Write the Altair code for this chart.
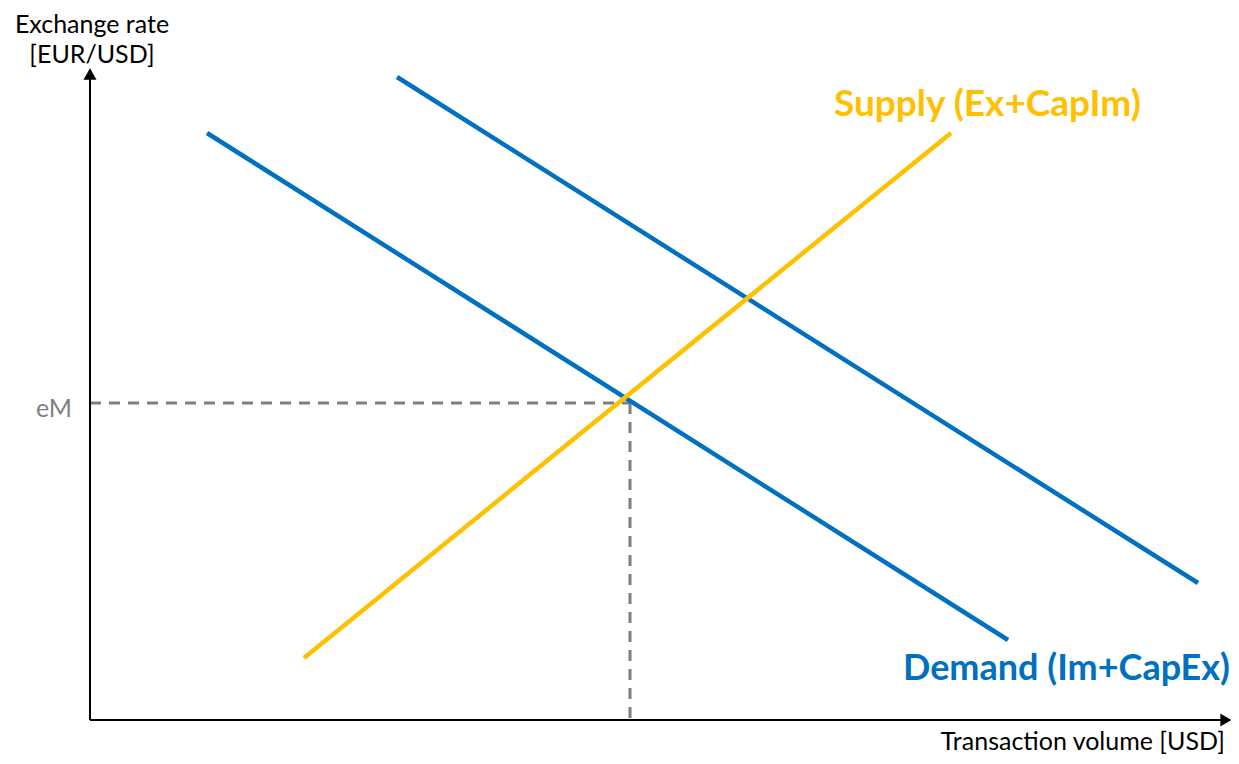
import altair as alt
import pandas as pd

# Curve end points (x: transaction volume units, y: exchange rate units)
demand1_x = [117, 918]
demand1_y = [587, 80]
demand2_x = [307, 1108]
demand2_y = [643, 137]
supply_x = [214, 861]
supply_y = [62, 587]

# Equilibrium
eq_x = 540
eq_y = 317

# Axis extent
x_max = 1136
y_max = 646

FONT = "Lato"
BLUE = "#0070C0"
YELLOW = "#FFC000"
GREY = "#7F7F7F"

xs = alt.Scale(domain=[-82, 1141], nice=False, zero=False)
ys = alt.Scale(domain=[-36, 712], nice=False, zero=False)

lines_df = pd.DataFrame({
    "x": demand1_x + demand2_x + supply_x,
    "y": demand1_y + demand2_y + supply_y,
    "series": ["d1", "d1", "d2", "d2", "s", "s"],
})

def line(series, color):
    return alt.Chart(lines_df[lines_df.series == series]).mark_line(
        color=color, strokeWidth=4.5, strokeCap="butt"
    ).encode(
        x=alt.X("x:Q", scale=xs, axis=None),
        y=alt.Y("y:Q", scale=ys, axis=None),
    )

axes_df = pd.DataFrame({"x": [0, 0], "y": [0, 0], "x2": [x_max, 0], "y2": [0, y_max]})
axes = alt.Chart(axes_df).mark_rule(color="black", strokeWidth=2).encode(
    x=alt.X("x:Q", scale=xs, axis=None), y=alt.Y("y:Q", scale=ys, axis=None),
    x2="x2:Q", y2="y2:Q",
)

arrow_up = alt.Chart(pd.DataFrame({"x": [0], "y": [y_max]})).mark_point(
    shape="triangle-up", filled=True, color="black", size=170, opacity=1
).encode(x=alt.X("x:Q", scale=xs, axis=None), y=alt.Y("y:Q", scale=ys, axis=None))

arrow_right = alt.Chart(pd.DataFrame({"x": [x_max], "y": [0]})).mark_point(
    shape="triangle-right", filled=True, color="black", size=170, opacity=1
).encode(x=alt.X("x:Q", scale=xs, axis=None), y=alt.Y("y:Q", scale=ys, axis=None))

dash_df = pd.DataFrame({"x": [0, eq_x], "y": [eq_y, eq_y], "x2": [eq_x, eq_x], "y2": [eq_y, 0]})
dashes = alt.Chart(dash_df).mark_rule(color=GREY, strokeWidth=3, strokeDash=[11, 8]).encode(
    x=alt.X("x:Q", scale=xs, axis=None), y=alt.Y("y:Q", scale=ys, axis=None),
    x2="x2:Q", y2="y2:Q",
)

def text(df, **kw):
    return alt.Chart(df).mark_text(font=FONT, baseline="middle", **kw).encode(
        x=alt.X("x:Q", scale=xs, axis=None),
        y=alt.Y("y:Q", scale=ys, axis=None),
        text="t:N",
    )

ylabel = text(pd.DataFrame({"x": [2, 2], "y": [695, 665], "t": ["Exchange rate", "[EUR/USD]"]}),
              align="center", fontSize=25, color="black")
xlabel = text(pd.DataFrame({"x": [1135], "y": [-22], "t": ["Transaction volume [USD]"]}),
              align="right", fontSize=25, color="black")
em = text(pd.DataFrame({"x": [-18], "y": [311], "t": ["eM"]}),
          align="right", fontSize=25, color=GREY)
supply_lbl = text(pd.DataFrame({"x": [744], "y": [615], "t": ["Supply (Ex+CapIm)"]}),
                  align="left", fontSize=37, fontWeight="bold", color=YELLOW)
demand_lbl = text(pd.DataFrame({"x": [813], "y": [51], "t": ["Demand (Im+CapEx)"]}),
                  align="left", fontSize=36, fontWeight="bold", color=BLUE)

chart = alt.layer(
    dashes, axes, arrow_up, arrow_right,
    line("d1", BLUE), line("d2", BLUE), line("s", YELLOW),
    ylabel, xlabel, em, supply_lbl, demand_lbl,
).properties(
    width=1223, height=748, padding=0, autosize=alt.AutoSizeParams(type="none"),
    background="white",
).configure_view(stroke=None)

chart.save("out.html", embed_options={"renderer": "svg", "actions": False})
